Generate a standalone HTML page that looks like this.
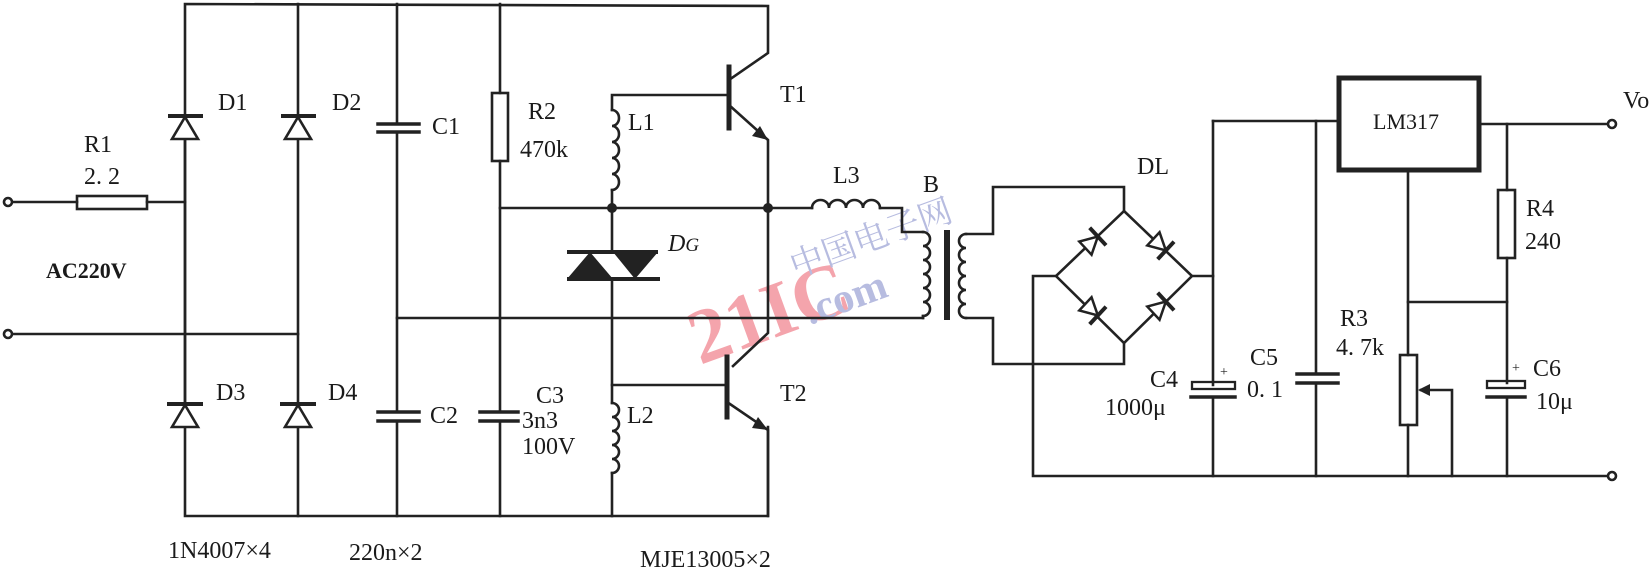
<!DOCTYPE html>
<html><head><meta charset="utf-8"><style>
html,body{margin:0;padding:0;background:#fff}
svg{display:block}
text{font-family:"Liberation Serif","Noto Serif CJK SC",serif;fill:#1a1a1a}
</style></head><body>
<svg width="1652" height="574" viewBox="0 0 1652 574" xmlns="http://www.w3.org/2000/svg">
<defs>
<g id="dd"><polygon points="-9,-9 -9,9 8,0" fill="#fff" stroke="#222" stroke-width="2.5"/><line x1="8" y1="-12" x2="8" y2="12" stroke="#222" stroke-width="4"/></g>
</defs>
<!-- watermark -->
<text x="0" y="0" transform="translate(700,365) rotate(-20)" font-family="Liberation Sans,sans-serif" font-weight="bold" font-size="78" fill="#f2a0a8" style="fill:#f4a4ac">21IC</text>
<text x="0" y="0" transform="translate(795,278) rotate(-20)" font-family="Liberation Sans,'Noto Sans CJK SC',sans-serif" font-size="34" style="fill:#b7bce0">中国电子网</text>
<text x="0" y="0" transform="translate(810,325) rotate(-20)" font-family="Liberation Sans,sans-serif" font-weight="bold" font-size="42" style="fill:#b7bce0">.com</text>

<g stroke="#222" stroke-width="2.6" fill="none" stroke-linecap="square">
<!-- rails -->
<polyline points="185,403 185,4 768,6 768,53 729,80"/>
<line x1="185" y1="139" x2="185" y2="403"/>
<polyline points="185,427 185,516 768,516 768,427"/>
<line x1="298" y1="4" x2="298" y2="403"/>
<line x1="298" y1="427" x2="298" y2="516"/>
<line x1="397" y1="4" x2="397" y2="124"/>
<line x1="397" y1="132" x2="397" y2="412"/>
<line x1="397" y1="421" x2="397" y2="516"/>
<line x1="500" y1="4" x2="500" y2="93"/>
<line x1="500" y1="161" x2="500" y2="412"/>
<line x1="500" y1="421" x2="500" y2="516"/>
<!-- inputs -->
<line x1="12" y1="202" x2="77" y2="202"/>
<rect x="77" y="196" width="70" height="13"/>
<line x1="147" y1="202" x2="185" y2="202"/>
<line x1="12" y1="334" x2="298" y2="334"/>
<!-- R2 -->
<rect x="492" y="93" width="16" height="68"/>
<!-- C plates -->
<line x1="378" y1="124" x2="419" y2="124" stroke-width="3.5"/><line x1="378" y1="132" x2="419" y2="132" stroke-width="3.5"/>
<line x1="378" y1="412" x2="419" y2="412" stroke-width="3.5"/><line x1="378" y1="421" x2="419" y2="421" stroke-width="3.5"/>
<line x1="480" y1="412" x2="518" y2="412" stroke-width="3.5"/><line x1="480" y1="421" x2="518" y2="421" stroke-width="3.5"/>
<!-- node row -->
<line x1="500" y1="208" x2="812" y2="208"/>
<line x1="397" y1="318" x2="923" y2="318"/>
<!-- L1 / L2 column -->
<polyline points="729,95 612,95 612,110"/>
<path d="M612,110 a7,8 0 0 1 0,16 a7,8 0 0 1 0,16 a7,8 0 0 1 0,16 a7,8 0 0 1 0,16 a7,8 0 0 1 0,16"/>
<line x1="612" y1="190" x2="612" y2="252"/>
<line x1="612" y1="279" x2="612" y2="403"/>
<polyline points="727,385 612,385"/>
<path d="M612,403 a7,7 0 0 1 0,14 a7,7 0 0 1 0,14 a7,7 0 0 1 0,14 a7,7 0 0 1 0,14 a7,7 0 0 1 0,14"/>
<line x1="612" y1="473" x2="612" y2="516"/>
<!-- T1 -->
<line x1="729" y1="67" x2="729" y2="128" stroke-width="5"/>
<polyline points="729,105 768,140 768,333 733,366"/>
<!-- T2 -->
<line x1="727" y1="357" x2="727" y2="417" stroke-width="5"/>
<polyline points="727,402 768,430 768,516"/>
<!-- L3 + primary -->
<path d="M812,208 a8.5,8 0 0 1 17,0 a8.5,8 0 0 1 17,0 a8.5,8 0 0 1 17,0 a8.5,8 0 0 1 17,0"/>
<polyline points="880,208 902,208 902,232 923,232"/>
<path d="M923,232 a7,7 0 0 1 0,14 a7,7 0 0 1 0,14 a7,7 0 0 1 0,14 a7,7 0 0 1 0,14 a7,7 0 0 1 0,14 a7,7 0 0 1 0,14"/>
<polyline points="923,316 923,318"/>
<line x1="947" y1="233" x2="947" y2="317" stroke-width="6"/>
<!-- secondary -->
<path d="M966,234 a7,7 0 0 0 0,14 a7,7 0 0 0 0,14 a7,7 0 0 0 0,14 a7,7 0 0 0 0,14 a7,7 0 0 0 0,14 a7,7 0 0 0 0,14"/>
<polyline points="966,234 993,234 993,187 1124,187 1124,211"/>
<polyline points="966,318 993,318 993,364 1124,364 1124,343"/>
<!-- bridge -->
<polygon points="1124,211 1192,276 1124,343 1056,276"/>
<polyline points="1056,276 1033,276 1033,476 1612,476"/>
<polyline points="1192,276 1213,276"/>
<line x1="1213" y1="121" x2="1213" y2="385"/>
<line x1="1213" y1="397" x2="1213" y2="476"/>
<line x1="1213" y1="121" x2="1338" y2="121"/>
<!-- C4 -->
<rect x="1192" y="382" width="43" height="7" stroke-width="2.3"/>
<line x1="1191" y1="397" x2="1235" y2="397" stroke-width="3.5"/>
<!-- C5 -->
<line x1="1316" y1="121" x2="1316" y2="374"/>
<line x1="1316" y1="383" x2="1316" y2="476"/>
<line x1="1297" y1="374" x2="1338" y2="374" stroke-width="3.5"/><line x1="1297" y1="383" x2="1338" y2="383" stroke-width="3.5"/>
<!-- LM317 -->
<rect x="1339" y="78" width="140" height="92" stroke-width="5"/>
<line x1="1479" y1="124" x2="1608" y2="124"/>
<line x1="1408" y1="170" x2="1408" y2="355"/>
<line x1="1408" y1="425" x2="1408" y2="476"/>
<rect x="1400" y="355" width="17" height="70"/>
<polyline points="1452,476 1452,390 1421,390"/>
<line x1="1408" y1="302" x2="1507" y2="302"/>
<!-- R4 -->
<line x1="1507" y1="124" x2="1507" y2="190"/>
<rect x="1498" y="190" width="17" height="68"/>
<line x1="1507" y1="258" x2="1507" y2="383"/>
<line x1="1507" y1="397" x2="1507" y2="476"/>
<rect x="1487" y="381" width="38" height="7" stroke-width="2.3"/>
<line x1="1487" y1="397" x2="1525" y2="397" stroke-width="3.5"/>
<!-- terminals -->
<circle cx="8" cy="202" r="4" fill="#fff"/>
<circle cx="8" cy="334" r="4" fill="#fff"/>
<circle cx="1612" cy="124" r="4" fill="#fff"/>
<circle cx="1612" cy="476" r="4" fill="#fff"/>
</g>
<!-- arrows/fills -->
<g fill="#222">
<polygon points="768,140 752,136 760,126"/>
<polygon points="768,430 752,428 758,417"/>
<polygon points="1418,390 1430,384 1430,396"/>
<circle cx="612" cy="208" r="5"/><circle cx="768" cy="208" r="5"/>
<!-- DG -->
<polygon points="567,279 613,279 590,252"/>
<polygon points="613,252 658,252 635,279"/>
<rect x="567" y="250" width="91" height="4"/><rect x="567" y="277" width="93" height="4"/>
</g>
<!-- main diodes -->
<g stroke="#222" stroke-width="2.6" fill="#fff">
<polygon points="172,139 198,139 185,117"/><line x1="168" y1="116" x2="203" y2="116" stroke-width="4"/>
<polygon points="285,139 311,139 298,117"/><line x1="281" y1="116" x2="316" y2="116" stroke-width="4"/>
<polygon points="172,427 198,427 185,405"/><line x1="167" y1="404" x2="203" y2="404" stroke-width="4"/>
<polygon points="285,427 311,427 298,405"/><line x1="280" y1="404" x2="316" y2="404" stroke-width="4"/>
</g>
<use href="#dd" transform="translate(1092,242) rotate(-43)"/>
<use href="#dd" transform="translate(1160,245) rotate(43)"/>
<use href="#dd" transform="translate(1092,310) rotate(43)"/>
<use href="#dd" transform="translate(1160,307) rotate(-43)"/>
<!-- labels -->
<g font-size="24">
<text x="218" y="110">D1</text><text x="332" y="110">D2</text>
<text x="216" y="400">D3</text><text x="328" y="400">D4</text>
<text x="84" y="152">R1</text><text x="84" y="184">2. 2</text>
<text x="46" y="278" font-family="Liberation Sans,sans-serif" font-weight="bold" font-size="22">AC220V</text>
<text x="432" y="134">C1</text><text x="430" y="423">C2</text>
<text x="536" y="403">C3</text><text x="522" y="428">3n3</text><text x="522" y="454">100V</text>
<text x="528" y="119">R2</text><text x="520" y="157">470k</text>
<text x="628" y="130">L1</text><text x="627" y="423">L2</text>
<text x="668" y="251" font-style="italic">D<tspan font-size="19">G</tspan></text>
<text x="780" y="102">T1</text><text x="780" y="401">T2</text>
<text x="833" y="183">L3</text><text x="923" y="192">B</text>
<text x="1137" y="174">DL</text>
<text x="1373" y="129" font-family="Liberation Sans,sans-serif" font-size="22">LM317</text>
<text x="1623" y="108">Vo</text>
<text x="1150" y="387">C4</text><text x="1105" y="415">1000μ</text>
<text x="1250" y="365">C5</text><text x="1247" y="397">0. 1</text>
<text x="1340" y="326">R3</text><text x="1336" y="355">4. 7k</text>
<text x="1526" y="216">R4</text><text x="1525" y="249">240</text>
<text x="1533" y="376">C6</text><text x="1536" y="409">10μ</text>
<text x="168" y="558">1N4007×4</text>
<text x="349" y="560">220n×2</text>
<text x="640" y="567">MJE13005×2</text>
</g>
<text x="1220" y="376" font-size="14">+</text>
<text x="1512" y="372" font-size="14">+</text>
</svg>
</body></html>
